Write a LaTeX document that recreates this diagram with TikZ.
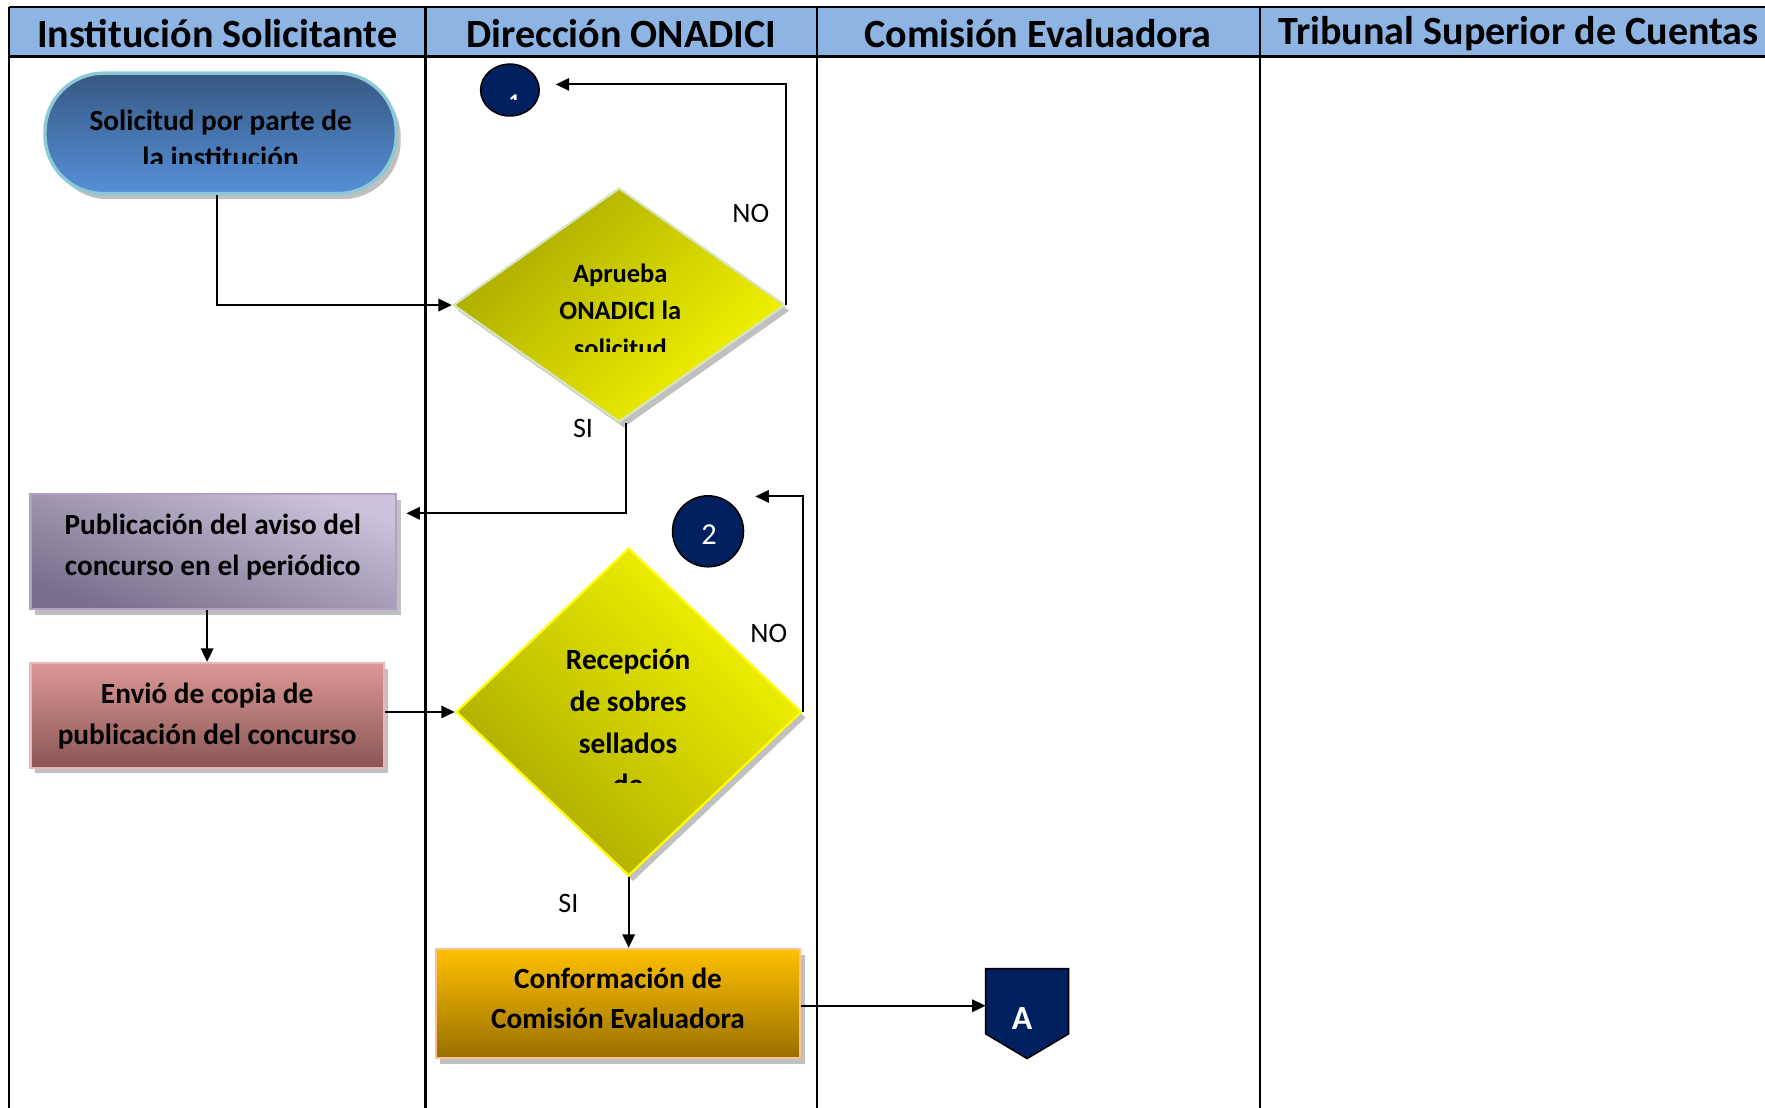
\documentclass[tikz,border=0pt]{standalone}
\usepackage{fontspec}
\setmainfont{Carlito}
\usetikzlibrary{arrows.meta,shapes.geometric,shadows,calc}
\definecolor{hdr}{HTML}{8DB4E2}
\definecolor{navy}{HTML}{002060}
\definecolor{termtop}{HTML}{375882}
\definecolor{termbot}{HTML}{5690D8}
\definecolor{termbrd}{HTML}{8BC9D6}
\definecolor{oliveA}{HTML}{A9A900}
\definecolor{yelA}{HTML}{F6F600}
\definecolor{dAbrd}{HTML}{D7E4BD}
\definecolor{dBbrd}{HTML}{FFFF00}
\definecolor{pubtop}{HTML}{CCC2DB}
\definecolor{pubbot}{HTML}{7A6F8C}
\definecolor{pubbrd}{HTML}{B2A1C7}
\definecolor{envtop}{HTML}{DC9896}
\definecolor{envbot}{HTML}{8A5654}
\definecolor{envbrd}{HTML}{E6B9B8}
\definecolor{conftop}{HTML}{FFC000}
\definecolor{confbot}{HTML}{987000}
\definecolor{confbrd}{HTML}{FAC090}
\begin{document}
\begin{tikzpicture}[x=0.5pt,y=-0.5pt,
  conn/.style={line width=0.95pt,-{Triangle[length=6pt,width=5.5pt]}},
  lane/.style={line width=0.9pt},
  hdrtext/.style={font=\bfseries\fontsize{17.8}{20}\selectfont},
  lbl/.style={font=\fontsize{12.5}{14}\selectfont},
  boxtext/.style={font=\bfseries\fontsize{13}{18.5}\selectfont,align=center,inner sep=0pt},
  shad/.style={drop shadow={shadow xshift=2pt,shadow yshift=-2.5pt,opacity=0.45,fill=black!55}},
  procbox/.style={rectangle,line width=1pt,inner sep=0pt,shad},
]
\useasboundingbox (0,0) rectangle (1568,984);
% header and lanes
\fill[hdr] (8,6) rectangle (1568,50);
\draw[lane] (8,6) -- (1568,6);
\draw[line width=1.3pt] (8,50) -- (1568,50);
\foreach \xx in {8,378,726,1119} \draw[lane] (\xx,6) -- (\xx,984);
\node[hdrtext] (h1) at (193,29.5) {Institución Solicitante};
\node[hdrtext] (h2) at (552,29.5) {Dirección ONADICI};
\node[hdrtext] (h3) at (922,29.5) {Comisión Evaluadora};
\node[hdrtext] (h4) at (1349,29.5) {Tribunal Superior de Cuentas};

% terminator
\node[procbox,draw=termbrd,line width=1.5pt,rounded corners=26pt,top color=termtop,bottom color=termbot,
  minimum width=156pt,minimum height=53.5pt] (start) at (196,118.5) {};
\begin{scope}
\clip (40,60) rectangle (352,145);
\node[boxtext,font=\bfseries\fontsize{13}{16.5}\selectfont] (starttxt) at (196,123) {Solicitud por parte de\\la institución};
\end{scope}

% circle 1
\node[ellipse,draw=black,line width=0.7pt,fill=navy,minimum width=26pt,minimum height=23pt,inner sep=0pt] (c1) at (453,80) {};
\begin{scope}
\clip (420,50) rectangle (490,88);
\node[text=white,font=\bfseries\fontsize{10}{12}\selectfont] (c1txt) at (457,91) {1};
\end{scope}

% diamond 1
\node[diamond,draw=dAbrd,line width=1pt,top color=oliveA,bottom color=yelA,shading angle=45,
  minimum width=147.5pt,minimum height=104pt,inner sep=0pt,shad] (d1) at (550,271) {};
\begin{scope}
\clip (400,160) rectangle (700,312);
\node[boxtext,font=\bfseries\fontsize{11.75}{16.5}\selectfont] (d1txt) at (551,276) {Aprueba\\ONADICI la\\solicitud};
\end{scope}

% publication box
\node[procbox,draw=pubbrd,top color=pubtop,bottom color=pubbot,shading angle=-20,
  minimum width=162.5pt,minimum height=51pt] (pub) at (189.5,490) {};
\node[boxtext] (pubtxt) at (189,486) {Publicación del aviso del\\concurso en el periódico};

% envio box
\node[procbox,draw=envbrd,top color=envtop,bottom color=envbot,
  minimum width=157pt,minimum height=46.5pt] (env) at (184,635.5) {};
\node[boxtext,font=\bfseries\fontsize{13}{18}\selectfont] (envtxt) at (184,636) {Envió de copia de\\publicación del concurso};

% circle 2
\node[circle,draw=black,line width=0.7pt,fill=navy,minimum size=31.5pt,inner sep=0pt] (c2) at (629,472) {};
\node[text=white,font=\fontsize{13.5}{15}\selectfont] (c2txt) at (630,475) {2};

% diamond 2
\node[diamond,draw=dBbrd,line width=1pt,top color=yelA,bottom color=oliveA,shading angle=-45,
  minimum width=153.5pt,minimum height=145.5pt,inner sep=0pt,shad] (d2) at (558.5,632.5) {};
\begin{scope}
\clip (400,480) rectangle (715,695);
\node[boxtext] (d2txt) at (558,641.5) {Recepción\\de sobres\\sellados\\de};
\end{scope}

% conformacion box
\node[procbox,draw=confbrd,top color=conftop,bottom color=confbot,
  minimum width=162pt,minimum height=48.5pt] (conf) at (549,891.5) {};
\node[boxtext,font=\bfseries\fontsize{13}{18}\selectfont] (conftxt) at (549,887) {Conformación de\\Comisión Evaluadora};

% off-page connector A
\node[minimum width=36.5pt,minimum height=39.5pt,inner sep=0pt] (conA) at (912.5,900.5) {};
\filldraw[fill=navy,draw=black,line width=0.7pt] (conA.north west) -- (conA.north east)
  -- ($(conA.south east)+(0,-22)$) -- (conA.south) -- ($(conA.south west)+(0,-22)$) -- cycle;
\node[text=white,font=\bfseries\fontsize{15}{17}\selectfont] (conAtxt) at (908,905) {A};

% connectors
\coordinate (n1) at ($(c1.east)+(14,-5)$);
\coordinate (p1) at ($(pub.north east)+(8,18)$);
\coordinate (n2) at (671,441);
\draw[conn] ([xshift=-1.5pt]start.south) |- (d1.west);
\draw[conn] (d1.east) |- (n1);
\draw[conn] ([xshift=3pt]d1.south) |- (p1);
\draw[conn] (pub.south -| env.north) -- (env.north);
\draw[conn] (env.east |- d2.west) -- (d2.west);
\draw[conn] (d2.east) |- (n2);
\draw[conn] (d2.south) -- (d2.south |- conf.north);
\draw[conn] ([yshift=-1pt]conf.east) -- ([yshift=-1pt]conf.east -| conA.west);

% labels
\node[lbl] (no1) at (667,190) {NO};
\node[lbl] (si1) at (518,381) {SI};
\node[lbl] (no2) at (683,563) {NO};
\node[lbl] (si2) at (505,803) {SI};
\end{tikzpicture}
\end{document}
